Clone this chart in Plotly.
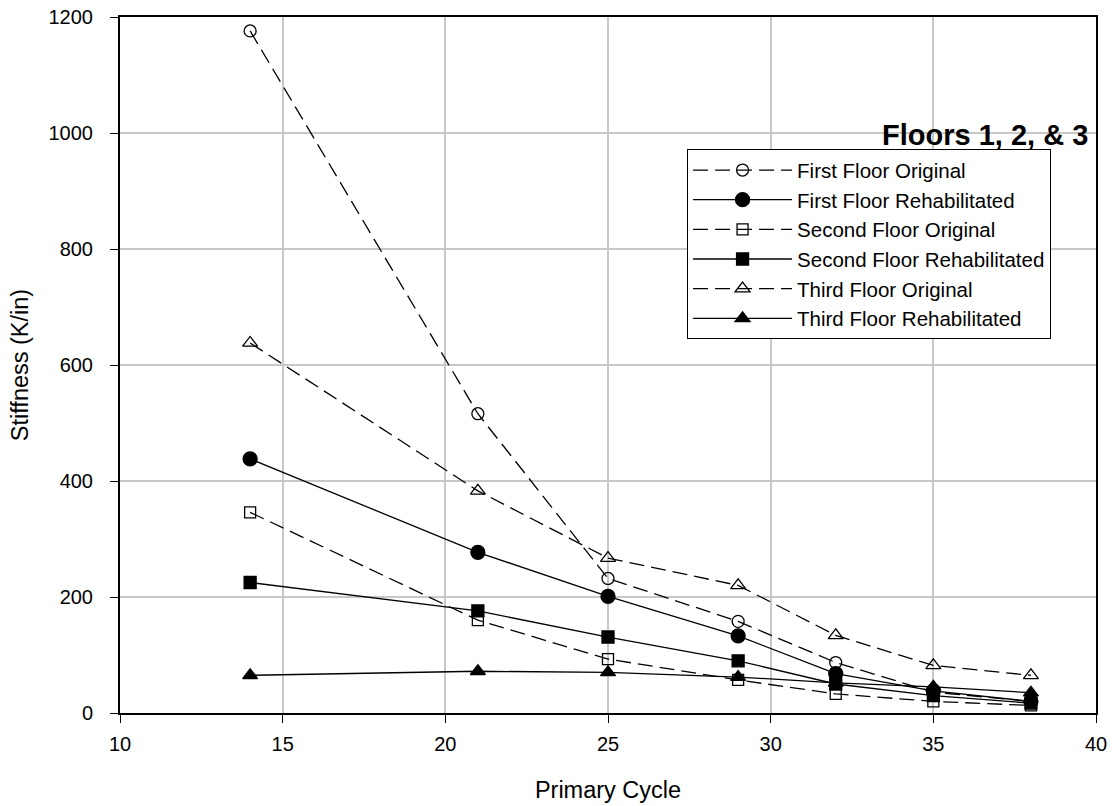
import plotly.graph_objects as go

cycles = [14, 21, 25, 29, 32, 35, 38]
first_orig = [1176, 516, 232, 158, 87, 36, 20]
first_rehab = [438, 277, 201, 133, 68, 38, 20]
second_orig = [346, 160, 93, 57, 33, 20, 13]
second_rehab = [225, 176, 131, 90, 50, 30, 17]
third_orig = [638, 383, 267, 220, 134, 82, 65]
third_rehab = [65, 72, 70, 62, 52, 45, 35]

series = [
    ("First Floor Original", first_orig, "circle-open", True, 12),
    ("First Floor Rehabilitated", first_rehab, "circle", False, 14),
    ("Second Floor Original", second_orig, "square-open", True, 11),
    ("Second Floor Rehabilitated", second_rehab, "square", False, 12),
    ("Third Floor Original", third_orig, "triangle-up-open", True, 13),
    ("Third Floor Rehabilitated", third_rehab, "triangle-up", False, 13),
]

fig = go.Figure()
for name, vals, sym, dashed, sz in series:
    fig.add_trace(go.Scatter(
        x=cycles, y=vals, name=name, mode="lines+markers",
        line=dict(color="black", width=1.3, dash="15px,7px" if dashed else "solid"),
        marker=dict(symbol=sym, size=sz, color="black",
                    line=dict(color="black", width=1.3)),
    ))

fig.update_layout(
    width=1112, height=806,
    margin=dict(l=120, r=16, t=17, b=93, autoexpand=False),
    paper_bgcolor="white", plot_bgcolor="white",
    font=dict(family="Liberation Sans, Arial, sans-serif", size=20, color="black"),
    legend=dict(x=0.581, y=0.810, xanchor="left", yanchor="top",
                bordercolor="black", borderwidth=1, bgcolor="white",
                font=dict(size=20.5), itemwidth=99, tracegroupgap=0),
    annotations=[dict(text="<b>Floors 1, 2, & 3</b>", x=0.886, y=0.830,
                      xref="paper", yref="paper", showarrow=False,
                      xanchor="center", yanchor="middle",
                      font=dict(size=29, color="black"))],
)
fig.update_xaxes(range=[10, 40], dtick=5, tick0=10, showgrid=True,
                 gridcolor="#c8c8c8", gridwidth=1.5, showline=True, linecolor="black",
                 linewidth=2, mirror=True, ticks="outside", ticklen=8,
                 tickcolor="black", zeroline=False, automargin=False,
                 tickfont=dict(size=20), ticklabelstandoff=4,
                 title=dict(text="Primary Cycle", standoff=28, font=dict(size=23.5)))
fig.update_yaxes(range=[0, 1200], dtick=200, tick0=0, showgrid=True,
                 gridcolor="#c8c8c8", gridwidth=1.5, showline=True, linecolor="black",
                 linewidth=2, mirror=True, ticks="outside", ticklen=8,
                 tickcolor="black", zeroline=False, automargin=False,
                 tickfont=dict(size=20), ticklabelstandoff=13,
                 title=dict(text="Stiffness (K/in)", standoff=13, font=dict(size=23.5)))

fig.write_html("out.html", config={"displayModeBar": False},
               post_script="document.body.style.margin='0';document.body.style.overflow='hidden';")
